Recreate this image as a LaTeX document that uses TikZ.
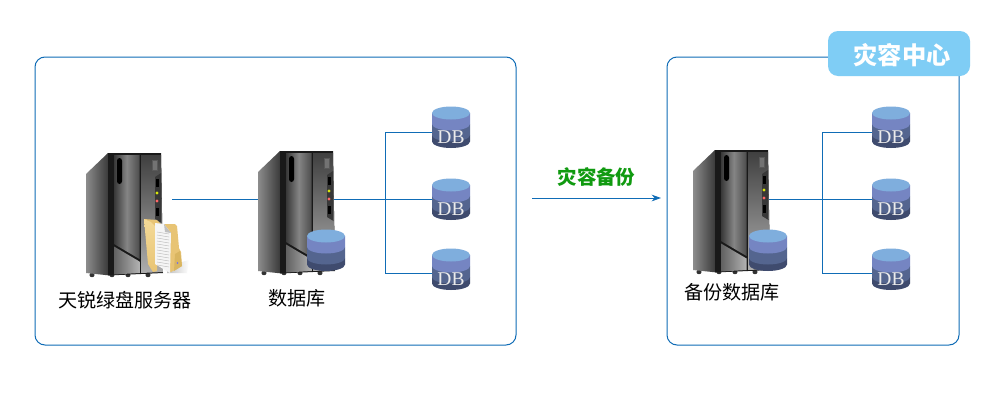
\documentclass[tikz,border=0pt]{standalone}
\usepackage{fontspec}
\setmainfont{Noto Sans CJK SC}
\newfontfamily\dbfont{Liberation Serif}
\usetikzlibrary{arrows.meta}
\definecolor{lineblue}{HTML}{0F6CB6}
\definecolor{badgeblue}{HTML}{7FCDF5}
\definecolor{greentxt}{HTML}{109A10}
\definecolor{dbA}{HTML}{7FAEDD}
\definecolor{dbB}{HTML}{7585C2}
\definecolor{dbC}{HTML}{54658F}
\definecolor{dbD}{HTML}{3F4B6E}
\definecolor{foldA}{HTML}{E8C474}
\definecolor{foldB}{HTML}{F4DA98}
\definecolor{foldC}{HTML}{D9B560}
\tikzset{
  boxframe/.style={draw=lineblue,line width=0.75pt,rounded corners=7.5pt},
  wire/.style={draw=lineblue,line width=0.75pt},
  flowline/.style={wire,-{Stealth[length=7pt,width=5pt,inset=2.2pt]}},
  captxt/.style={font=\fontsize{14.3pt}{15pt}\selectfont,text=black,inner sep=0pt},
  badge/.style={fill=badgeblue,rounded corners=7.5pt},
  badgetxt/.style={font=\fontsize{18.2pt}{19pt}\bfseries\selectfont,text=white,inner sep=0pt},
  flowtxt/.style={font=\fontsize{14.6pt}{16pt}\bfseries\selectfont,text=greentxt,inner sep=0pt},
  dbtxt/.style={font=\dbfont\fontsize{14.6pt}{16pt}\selectfont,text=white!92!black,inner sep=0pt},
}
\newcommand\dbcyl[2]{%
  \begin{scope}[shift={(#1,#2)}]
    \fill[dbD] (0,29) -- (0,35.5) arc[x radius=19,y radius=6.5,start angle=180,end angle=0] -- (38,29) -- cycle;
    \fill[dbC] (0,18) -- (0,29) arc[x radius=19,y radius=6.5,start angle=180,end angle=0] -- (38,18) -- cycle;
    \fill[dbB] (0,7) -- (0,18) arc[x radius=19,y radius=6.5,start angle=180,end angle=0] -- (38,7) -- cycle;
    \fill[dbA] (19,7) ellipse[x radius=19,y radius=6.5];
  \end{scope}}
\newcommand\tower[2]{%
  \begin{scope}[shift={(#1,#2)}]
    \foreach \fx in {6,26,42,62}{\fill[black!80] (\fx,122) ellipse[x radius=2.6,y radius=2.2];}
    \shade[left color=black!45,right color=black!80] (0,21) -- (22,0) -- (24,0) -- (24,122.5) -- (0,120) -- cycle;
    \fill[black!90] (22,0) -- (75,0) -- (77,120) -- (22,122.5) -- cycle;
    \shade[left color=black!78,right color=black!70,middle color=black!48] (28,2) -- (53.5,2) -- (53.5,106) -- (28,91) -- cycle;
    \shade[left color=black!62,right color=black!30] (28,93.5) -- (53.5,108.5) -- (53.5,120) -- (28,121.5) -- cycle;
    \shade[top color=black!75,bottom color=black!32] (55,2) -- (75,2) -- (77,119) -- (55,120) -- cycle;
    \fill[black,rounded corners=2pt] (31,5) rectangle (36,31);
    \fill[black!78] (69,24) -- (75,20) -- (75.5,70) -- (69,66) -- cycle;
    \draw[black!65,line width=0.6pt,fill=black!55] (66,7) rectangle (71,17);
    \fill[black] (70,26) rectangle (72.5,34);
    \fill[black] (70,55) rectangle (72.5,63);
    \fill[yellow!85!green] (71,40) circle[radius=1.7];
    \fill[red!60!white] (71,48) circle[radius=1.7];
  \end{scope}}
\newcommand\folder[2]{%
  \begin{scope}[shift={(#1,#2)}]
    \shade[left color=black!25,right color=white] (24,48) -- (46,42) -- (44,55) -- (24,55) -- cycle;
    \fill[foldA] (1,1) -- (14,2) -- (18,6) -- (32,6) -- (34,8) -- (36,30) -- (38,34) -- (39,48) -- (28,54) -- (20,50) -- cycle;
    \shade[top color=foldB,bottom color=foldA] (1,1) -- (8,4) -- (16,12) -- (14,53) -- (10,54) -- (5,46) -- cycle;
    \fill[black!4] (12,5) -- (21,6) -- (28,15) -- (27,55) -- (12,46) -- cycle;
    \fill[black!25] (21,6) -- (28,15) -- (22,14) -- cycle;
    \foreach \ly in {14,17,...,47}{\draw[black!30,line width=0.3pt] (14,\ly) -- (26,\ly+2);}
    \fill[foldC] (32,36) -- (37,33) -- (39,48) -- (31,53) -- cycle;
    \fill[blue!60!white] (34.5,45) circle[radius=0.8];
  \end{scope}}
\begin{document}
\begin{tikzpicture}[x=0.75pt,y=-0.75pt]
\useasboundingbox (0,0) rectangle (1000,400);
\fill[white] (0,0) rectangle (1000,400);
\draw[boxframe] (35,57) rectangle (516,345);
\draw[boxframe] (667,57) rectangle (959,345);
\node[badge,minimum width=106.5pt,minimum height=33.75pt,inner sep=0pt] (badgebox) at (899,53.5) {};
\node[badgetxt] (badgelabel) at (902,55) {灾容中心};
\coordinate (s1out) at (172,199);
\coordinate (s2in) at (262,199);
\coordinate (s2out) at (333,199);
\coordinate (s3out) at (768,199);
\coordinate (ltrunkT) at (385,132);
\coordinate (ltrunkB) at (385,273);
\coordinate (rtrunkT) at (822,132);
\coordinate (rtrunkB) at (822,273);
\coordinate (ld1) at (434,132);
\coordinate (ld2) at (434,199);
\coordinate (ld3) at (434,273);
\coordinate (rd1) at (874,132);
\coordinate (rd2) at (874,199);
\coordinate (rd3) at (874,273);
\coordinate (arrowA) at (532,198);
\coordinate (arrowB) at (661,198);
\draw[wire] (s1out) -- (s2in);
\draw[wire] (s2out) -- (ld2);
\draw[wire] (ld1) -- (ltrunkT) -- (ltrunkB) -- (ld3);
\draw[wire] (s3out) -- (rd2);
\draw[wire] (rd1) -- (rtrunkT) -- (rtrunkB) -- (rd3);
\draw[flowline] (arrowA) -- (arrowB);
\tower{86}{153}
\folder{143}{218}
\tower{258}{151}
\dbcyl{307}{229}
\tower{693}{150}
\dbcyl{749}{229}
\foreach \dx in {432,872}{
  \foreach \dy in {106,178,248}{
    \dbcyl{\dx}{\dy}
    \node[dbtxt] at (\dx+19,\dy+31) {DB};
  }
}
\node[captxt] (l1) at (125,300) {天锐绿盘服务器};
\node[captxt] (l2) at (297,298) {数据库};
\node[captxt] (l3) at (732,292) {备份数据库};
\node[flowtxt] (ftxt) at (596.5,177) {灾容备份};
\end{tikzpicture}
\end{document}
